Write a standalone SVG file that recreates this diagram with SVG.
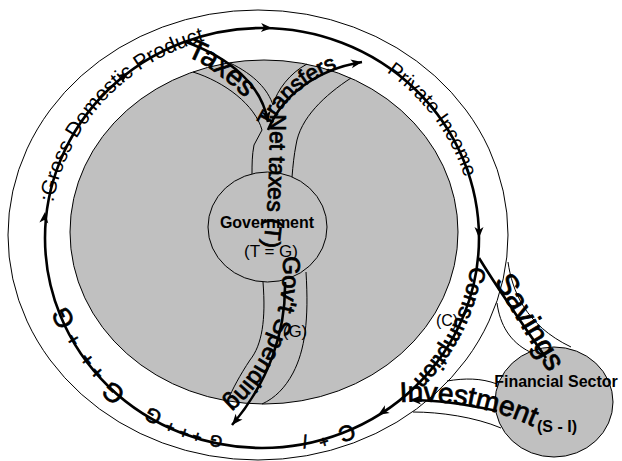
<svg xmlns="http://www.w3.org/2000/svg" width="622" height="461" viewBox="0 0 622 461">
<style>
.thin{fill:none;stroke:#000;stroke-width:1}
.flow{fill:none;stroke:#000;stroke-width:2.6}
.node{fill:#c0c0c0;stroke:#000;stroke-width:1}
text{font-family:"Liberation Sans",Arial,sans-serif;fill:#000}
.lbl{font-weight:bold;font-size:16px;text-anchor:middle}
.sub{font-size:17px;text-anchor:middle}
.heavy{stroke:#000;stroke-width:0.8}
.cig{text-anchor:middle;dominant-baseline:central;stroke:#000;stroke-width:0.7}
</style>
<defs>
<path id="ah" d="M0,0 L-11,-4.5 L-8,0 L-11,4.5 Z" fill="#000"/>
<path id="pGDP" d="M53.2,202.4 A212,205 0 0,1 368,60.5"/>
<path id="pPI" d="M386.6,72.2 A212,205 0 0,1 445.6,340.5"/>
<path id="pCon" d="M470.9,266.4 A211,204 0 0,1 367.5,414.7"/>
<path id="pTax" d="M186,56 C206,63 236,86 258,112"/>
<path id="pTr" d="M270,128 C285,96 315,72 364,60"/>
<path id="pNet" d="M270,114 C270,170 268,220 261,262"/>
<path id="pGs" d="M283,256 C285,320 262,372 214,410"/>
<path id="pSav" d="M494,281 L553,380"/>
<path id="pInv" d="M400,402 C440,400 485,403 545,432"/>
</defs>
<rect width="622" height="461" fill="#fff"/>

<g id="economy">
<ellipse cx="258" cy="235" rx="250" ry="225" class="thin"/>
<ellipse cx="264" cy="232" rx="194" ry="172" class="node"/>
<path class="thin" d="M193,72 C225,82 255,105 262,130 L254,145 C252,155 252,165 252,174"/>
<path class="thin" d="M230,63 C255,75 268,90 273,105 C277,90 290,73 307,64"/>
<path class="thin" d="M351,78 C325,95 300,118 296,145 C294,155 293,165 292,177"/>
<path class="thin" d="M263,282 C266,320 262,345 250,360 C240,375 232,390 228,400"/>
<path class="thin" d="M306,272 C309,320 305,350 293,373 C285,388 275,398 262,404"/>
<path class="thin" d="M447,381 C465,378 481,378 497,384"/>
<path class="thin" d="M413,412 C440,412 475,417 501,428"/>
<path class="thin" d="M497,303 C500,325 510,342 530,352"/>
<path class="thin" d="M508,262 C512,290 525,325 571,347"/>
</g>

<g id="government">
<ellipse cx="267.5" cy="227" rx="59.5" ry="55" class="node"/>
<text x="267" y="228" class="lbl" font-size="17">Government</text>
<text x="271" y="257" class="sub">(T = G)</text>
</g>

<g id="financial-sector">
<ellipse cx="554" cy="402" rx="59" ry="55" class="node"/>
<text x="556" y="387" class="lbl">Financial Sector</text>
<text x="557" y="432" class="lbl">(S - I)</text>
</g>

<g id="connectors">
<ellipse cx="262" cy="238" rx="217" ry="210" class="flow"/>
<path class="flow" d="M186,42 C230,58 262,85 268,122"/>
<path class="flow" d="M268,130 C282,96 315,70 362,62"/>
<path class="flow" d="M479,258 C500,292 525,328 546,358"/>
<path class="flow" d="M497,411 C470,405 440,400 410,400"/>
<path class="flow" d="M285,282 C286,330 270,380 232,425"/>
<use href="#ah" transform="translate(45,212) rotate(-84)"/>
<use href="#ah" transform="translate(128.4,72.5) rotate(-37)"/>
<use href="#ah" transform="translate(272,28) rotate(2)"/>
<use href="#ah" transform="translate(479,238) rotate(90)"/>
<use href="#ah" transform="translate(268,122) rotate(81)"/>
<use href="#ah" transform="translate(362,62) rotate(-10)"/>
<use href="#ah" transform="translate(410,400) rotate(180)"/>
<use href="#ah" transform="translate(378,415) rotate(148)"/>
<use href="#ah" transform="translate(232,425) rotate(130)"/>
</g>

<g id="flow-labels">
<text font-size="21"><textPath href="#pGDP">:Gross Domestic Product</textPath></text>
<text font-size="20"><textPath href="#pPI">Private Income</textPath></text>
<text font-size="22" class="heavy"><textPath href="#pCon">Consumption</textPath></text>
<text font-size="28" class="heavy"><textPath href="#pTax">Taxes</textPath></text>
<text font-size="22" class="heavy"><textPath href="#pTr">Transfers</textPath></text>
<text font-size="23" class="heavy"><textPath href="#pNet">Net taxes (T)</textPath></text>
<text font-size="24" class="heavy"><textPath href="#pGs">Gov't Spending</textPath></text>
<text font-size="30" class="heavy"><textPath href="#pSav">Savings</textPath></text>
<text font-size="28" class="heavy"><textPath href="#pInv">Investment</textPath></text>
<text x="295" y="337" class="sub">(G)</text>
<text x="447" y="326" font-size="16" text-anchor="middle">(C)</text>
<text class="cig" font-size="22" transform="translate(347,433) rotate(157.6)">C</text>
<text class="cig" font-size="16" transform="translate(324,442) rotate(164)">+</text>
<text class="cig" font-size="18" transform="translate(305,441) rotate(169)">/</text>
<text class="cig" font-size="16" transform="translate(216,441) rotate(192)">G</text>
<text class="cig" font-size="16" transform="translate(197,437) rotate(197)">+</text>
<text class="cig" font-size="16" transform="translate(184,433) rotate(200)">+</text>
<text class="cig" font-size="16" transform="translate(170,427) rotate(204)">+</text>
<text class="cig" font-size="20" transform="translate(153,416) rotate(209)">G</text>
<text class="cig" font-size="26" transform="translate(113,393) rotate(222)">G</text>
<text class="cig" font-size="20" transform="translate(97,373) rotate(228)">+</text>
<text class="cig" font-size="20" transform="translate(87,360) rotate(233)">+</text>
<text class="cig" font-size="20" transform="translate(73,340) rotate(240)">+</text>
<text class="cig" font-size="26" transform="translate(63,318) rotate(246)">G</text>
</g>
</svg>
